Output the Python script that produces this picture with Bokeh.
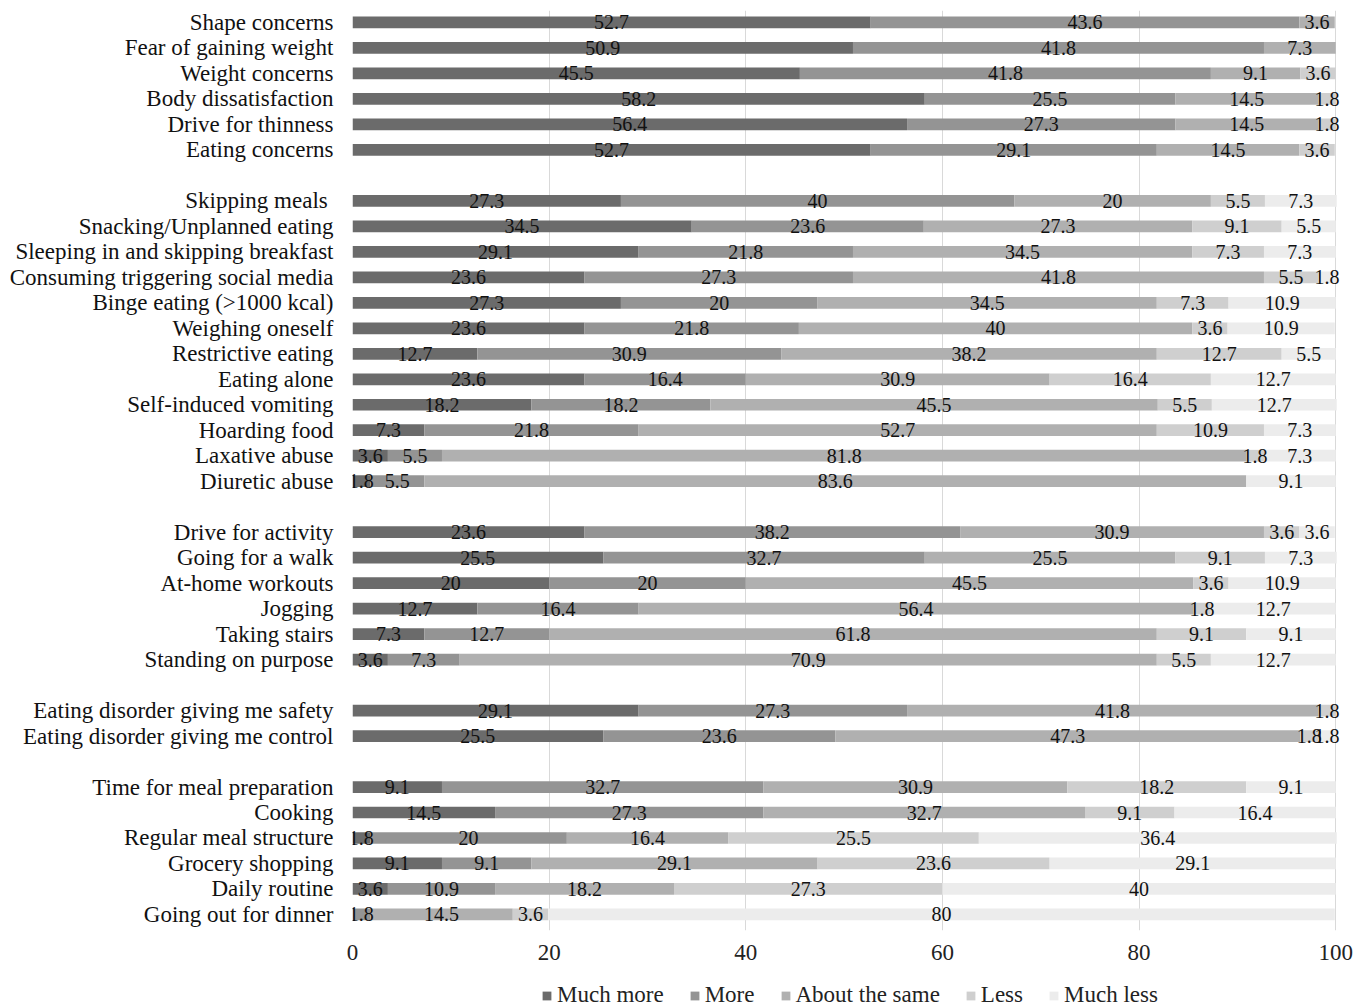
from bokeh.plotting import figure
from bokeh.layouts import column
from bokeh.models import Range1d, FixedTicker, Legend, LegendItem, ColumnDataSource
from bokeh.core.properties import value
from bokeh.embed import file_html
from bokeh.resources import INLINE

# ---------------- data ----------------
categories = [
    "Shape concerns", "Fear of gaining weight", "Weight concerns",
    "Body dissatisfaction", "Drive for thinness", "Eating concerns",
    "Skipping meals ", "Snacking/Unplanned eating", "Sleeping in and skipping breakfast",
    "Consuming triggering social media", "Binge eating (>1000 kcal)", "Weighing oneself",
    "Restrictive eating", "Eating alone", "Self-induced vomiting", "Hoarding food",
    "Laxative abuse", "Diuretic abuse",
    "Drive for activity", "Going for a walk", "At-home workouts", "Jogging",
    "Taking stairs", "Standing on purpose",
    "Eating disorder giving me safety", "Eating disorder giving me control",
    "Time for meal preparation", "Cooking", "Regular meal structure",
    "Grocery shopping", "Daily routine", "Going out for dinner",
]
group_sizes = [6, 12, 6, 2, 6]

much_more = [52.7, 50.9, 45.5, 58.2, 56.4, 52.7,
             27.3, 34.5, 29.1, 23.6, 27.3, 23.6, 12.7, 23.6, 18.2, 7.3, 3.6, 1.8,
             23.6, 25.5, 20, 12.7, 7.3, 3.6,
             29.1, 25.5,
             9.1, 14.5, 1.8, 9.1, 3.6, 0]
more = [43.6, 41.8, 41.8, 25.5, 27.3, 29.1,
        40, 23.6, 21.8, 27.3, 20, 21.8, 30.9, 16.4, 18.2, 21.8, 5.5, 5.5,
        38.2, 32.7, 20, 16.4, 12.7, 7.3,
        27.3, 23.6,
        32.7, 27.3, 20, 9.1, 10.9, 1.8]
about_same = [3.6, 7.3, 9.1, 14.5, 14.5, 14.5,
              20, 27.3, 34.5, 41.8, 34.5, 40, 38.2, 30.9, 45.5, 52.7, 81.8, 83.6,
              30.9, 25.5, 45.5, 56.4, 61.8, 70.9,
              41.8, 47.3,
              30.9, 32.7, 16.4, 29.1, 18.2, 14.5]
less = [0, 0, 3.6, 1.8, 1.8, 3.6,
        5.5, 9.1, 7.3, 5.5, 7.3, 3.6, 12.7, 16.4, 5.5, 10.9, 1.8, 0,
        3.6, 9.1, 3.6, 1.8, 9.1, 5.5,
        1.8, 1.8,
        18.2, 9.1, 25.5, 23.6, 27.3, 3.6]
much_less = [0, 0, 0, 0, 0, 0,
             7.3, 5.5, 7.3, 1.8, 10.9, 10.9, 5.5, 12.7, 12.7, 7.3, 7.3, 9.1,
             3.6, 7.3, 10.9, 12.7, 9.1, 12.7,
             0, 1.8,
             9.1, 16.4, 36.4, 29.1, 40, 80]

series_names = ["Much more", "More", "About the same", "Less", "Much less"]
x_ticks = [0, 20, 40, 60, 80, 100]

# ---------------- layout helpers ----------------
colors = ["#6b6b6b", "#949494", "#b0b0b0", "#cfcfcf", "#ececec"]
FONT = "Liberation Serif"

rows = []
r = 0
for g in group_sizes:
    for _ in range(g):
        rows.append(r)
        r += 1
    r += 1  # blank separator row
last_row = rows[-1]

series = [much_more, more, about_same, less, much_less]
keys = ["mm", "m", "a", "l", "ml"]
data = {"y": rows}
for k, s in zip(keys, series):
    data[k] = s
source = ColumnDataSource(data)

p = figure(width=1357, height=972, output_backend="svg", toolbar_location=None,
           x_range=Range1d(0, 101.5),
           y_range=Range1d(last_row + 0.63, -0.47),
           min_border_left=352, min_border_right=7, min_border_top=10,
           min_border_bottom=42)
p.outline_line_color = None

p.hbar_stack(keys, y="y", height=0.46, color=colors, source=source, line_color=None)

# value labels
for i, s in enumerate(series):
    xs, ys, ts = [], [], []
    for j, v in enumerate(s):
        if v <= 0:
            continue
        left = sum(series[k][j] for k in range(i))
        xs.append(left + v / 2)
        ys.append(rows[j])
        ts.append(f"{v:g}")
    p.text(x=xs, y=ys, text=ts, text_align="center", text_baseline="middle",
           text_font=value(FONT), text_font_size="20px", text_color="#111111")

# axes
p.xaxis.ticker = FixedTicker(ticks=x_ticks)
p.xaxis.axis_line_color = None
p.xaxis.major_tick_line_color = None
p.xaxis.minor_tick_line_color = None
p.xaxis.major_tick_out = 0
p.xaxis.major_tick_in = 0
p.xaxis.minor_tick_out = 0
p.xaxis.major_label_text_font = FONT
p.xaxis.major_label_text_font_size = "23px"
p.xaxis.major_label_text_color = "#222222"
p.xaxis.major_label_standoff = 14

p.yaxis.ticker = FixedTicker(ticks=rows)
p.yaxis.major_label_overrides = {rw: c for rw, c in zip(rows, categories)}
p.yaxis.axis_line_color = None
p.yaxis.major_tick_line_color = None
p.yaxis.minor_tick_line_color = None
p.yaxis.major_tick_out = 0
p.yaxis.major_tick_in = 0
p.yaxis.major_label_text_font = FONT
p.yaxis.major_label_text_font_size = "23px"
p.yaxis.major_label_text_color = "#111111"
p.yaxis.major_label_standoff = 19

p.ygrid.grid_line_color = None
p.xgrid.ticker = FixedTicker(ticks=x_ticks)
p.xgrid.grid_line_color = "#d9d9d9"
p.xgrid.grid_line_width = 1

# ---------------- legend strip (separate small figure) ----------------
lg = figure(width=1357, height=36, output_backend="svg", toolbar_location=None,
            x_range=Range1d(0, 1), y_range=Range1d(1000, 1001),
            x_axis_location=None, y_axis_location=None,
            min_border=0)
lg.outline_line_color = None
lg.grid.grid_line_color = None
lg_renderers = lg.hbar_stack(keys, y="y", height=0.46, color=colors, source=source,
                             line_color=None)

legend = Legend(items=[LegendItem(label=n, renderers=[rr]) for n, rr in zip(series_names, lg_renderers)],
                orientation="horizontal", location=(189, 0))
legend.label_text_font = FONT
legend.label_text_font_size = "23px"
legend.label_text_color = "#222222"
legend.glyph_width = 11
legend.glyph_height = 11
legend.label_standoff = 5
legend.spacing = 25
legend.padding = 0
legend.margin = 0
legend.border_line_color = None
legend.background_fill_alpha = 0
lg.add_layout(legend)

layout = column(p, lg, spacing=0)
open("out.html", "w").write(file_html(layout, INLINE))
